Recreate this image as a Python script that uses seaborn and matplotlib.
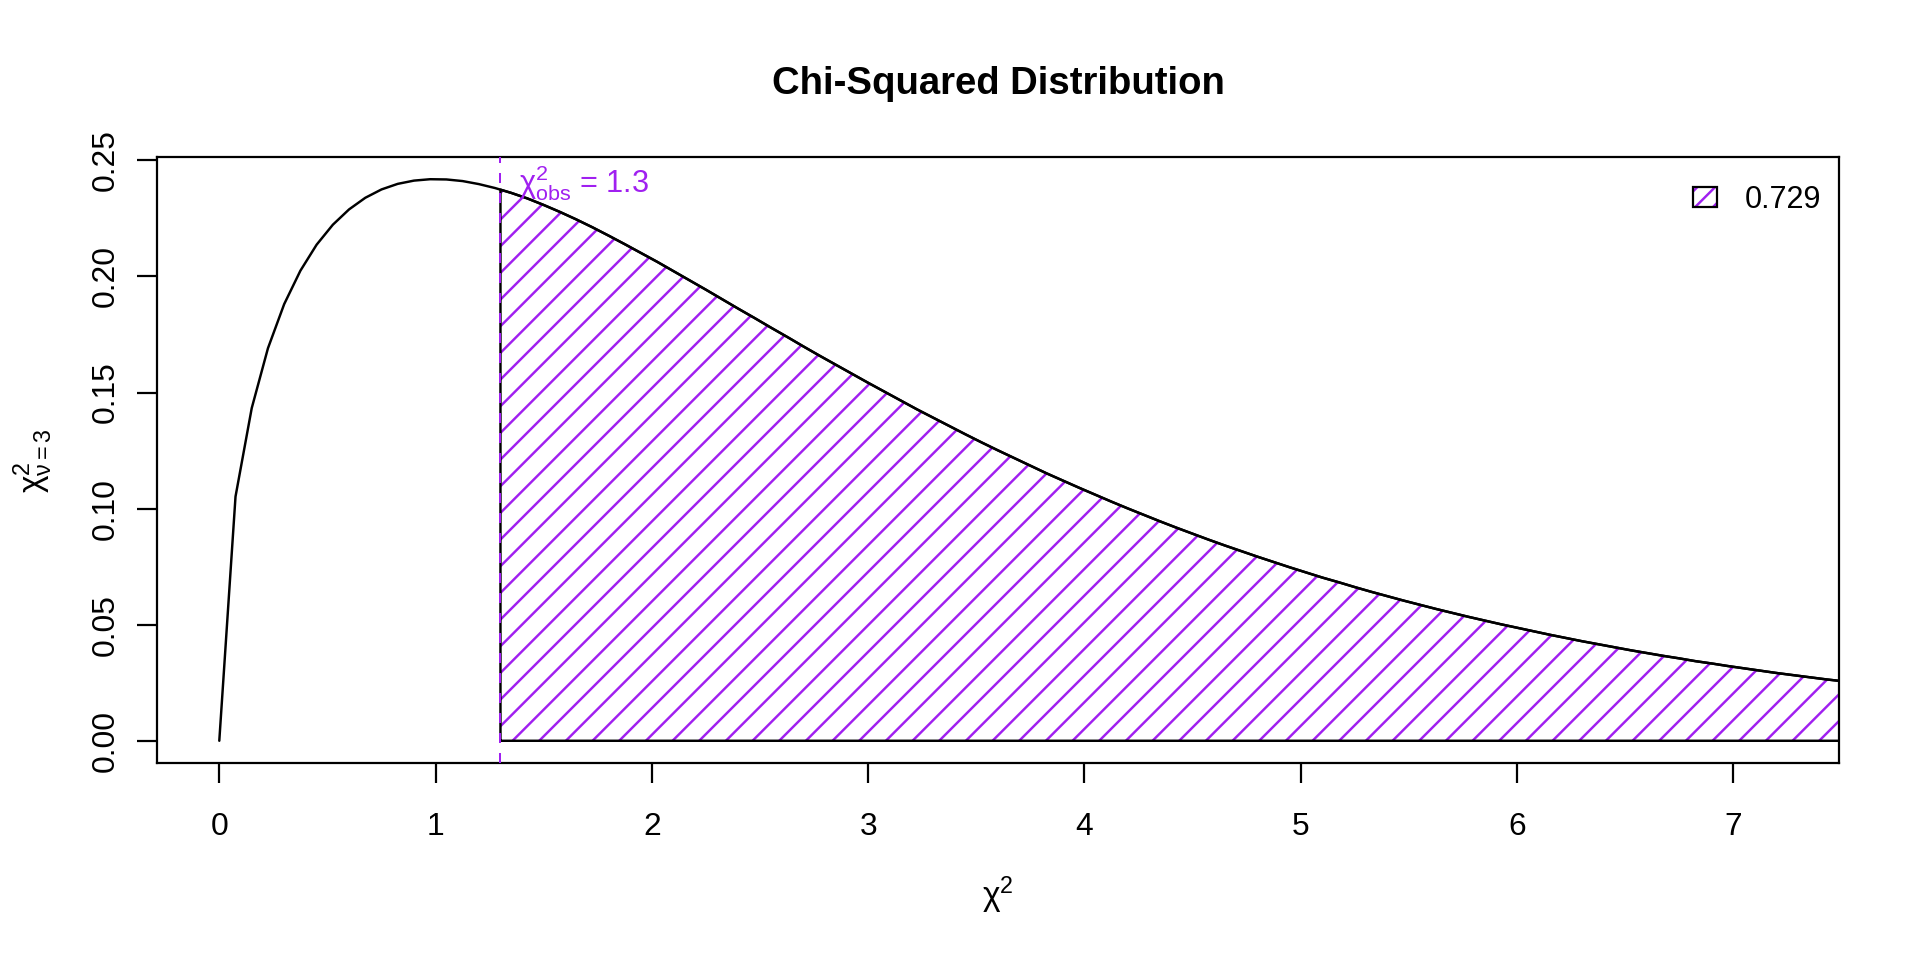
import numpy as np
import matplotlib
matplotlib.use('Agg')
import matplotlib.pyplot as plt
import seaborn as sns
from matplotlib.patches import Patch

# ---------------- data ----------------
chi_x = np.linspace(0, 7.5, 101)
chi_density = [
    0.0000, 0.1052, 0.1433, 0.1691, 0.1881, 0.2025, 0.2137, 0.2223, 0.2289, 0.2339,
    0.2375, 0.2399, 0.2413, 0.2419, 0.2418, 0.2411, 0.2398, 0.2381, 0.2360, 0.2336,
    0.2308, 0.2278, 0.2246, 0.2212, 0.2176, 0.2139, 0.2101, 0.2063, 0.2023, 0.1983,
    0.1943, 0.1902, 0.1861, 0.1821, 0.1780, 0.1740, 0.1699, 0.1659, 0.1620, 0.1581,
    0.1542, 0.1504, 0.1466, 0.1428, 0.1392, 0.1356, 0.1320, 0.1285, 0.1251, 0.1218,
    0.1185, 0.1152, 0.1121, 0.1090, 0.1060, 0.1030, 0.1001, 0.0973, 0.0945, 0.0918,
    0.0892, 0.0866, 0.0841, 0.0817, 0.0793, 0.0770, 0.0747, 0.0725, 0.0703, 0.0683,
    0.0662, 0.0642, 0.0623, 0.0604, 0.0586, 0.0568, 0.0551, 0.0534, 0.0518, 0.0502,
    0.0487, 0.0472, 0.0457, 0.0443, 0.0429, 0.0416, 0.0403, 0.0390, 0.0378, 0.0366,
    0.0355, 0.0343, 0.0333, 0.0322, 0.0312, 0.0302, 0.0292, 0.0283, 0.0274, 0.0265,
    0.0257,
]
x_ticks = [0, 1, 2, 3, 4, 5, 6, 7]
x_tick_labels = ['0', '1', '2', '3', '4', '5', '6', '7']
y_ticks = [0.00, 0.05, 0.10, 0.15, 0.20, 0.25]
y_tick_labels = ['0.00', '0.05', '0.10', '0.15', '0.20', '0.25']
chi_obs = 1.3
p_value_label = '0.729'
dof = 3
title = 'Chi-Squared Distribution'

# ---------------- style ----------------
sns.set_style('white')
plt.rcParams['font.family'] = ['Liberation Sans', 'DejaVu Sans']
plt.rcParams['mathtext.fontset'] = 'custom'
plt.rcParams['mathtext.rm'] = 'Liberation Sans'
plt.rcParams['mathtext.it'] = 'Liberation Sans:italic'
plt.rcParams['mathtext.bf'] = 'Liberation Sans:bold'
plt.rcParams['hatch.linewidth'] = 1.1
for k in ['text.color', 'axes.labelcolor', 'xtick.color', 'ytick.color']:
    plt.rcParams[k] = 'black'

PURPLE = '#A020F0'
W, H = 1920, 960

fig = plt.figure(figsize=(12, 6), dpi=160)
ax = fig.add_axes([156.7 / W, 1 - 763.3 / H, (1839.3 - 156.7) / W, (763.3 - 156.7) / H])

y = np.array(chi_density)
mask = chi_x > chi_obs
obs_d = np.interp(chi_obs, chi_x, y)
px = np.concatenate([[chi_obs], chi_x[mask]])
py = np.concatenate([[obs_d], y[mask]])

# hatched tail area
ax.fill_between(px, 0, py, facecolor='none', edgecolor=PURPLE, hatch='//',
                linewidth=0, zorder=1)
# polygon border
poly_x = np.concatenate([[chi_obs], px, [px[-1], chi_obs]])
poly_y = np.concatenate([[0], py, [0, 0]])
ax.plot(poly_x, poly_y, color='black', lw=1.1, zorder=2)

# density curve
sns.lineplot(x=chi_x, y=y, color='black', lw=1.1, ax=ax, zorder=3)

# observed value line
ax.axvline(chi_obs, color=PURPLE, lw=0.9, ls=(0, (5, 5)), zorder=4)

ax.text(1.387, 0.2361, r'$\mathrm{χ}^{2}_{\mathrm{obs}}$' + f' = {chi_obs}',
        color=PURPLE, fontsize=13.8, ha='left', va='baseline', zorder=5)

ax.set_xlim(-0.2894, 7.49)
ax.set_ylim(-0.0097, 0.2516)
ax.set_xticks(x_ticks, x_tick_labels)
ax.set_yticks(y_ticks, y_tick_labels)
ax.set_xlabel('')
ax.set_ylabel('')
ax.tick_params(direction='out', length=9, width=1, labelsize=14.3, color='black',
               labelcolor='black', bottom=True, left=True, top=False, right=False)
ax.tick_params(axis='x', pad=12.8)
ax.tick_params(axis='y', pad=7.3, labelrotation=90)
for lab in ax.get_yticklabels():
    lab.set_va('center')
for s in ax.spines.values():
    s.set_visible(True)
    s.set_color('black')
    s.set_linewidth(1)

# titles / labels
cx = (156.7 + 1839.3) / 2 / W
fig.text(cx, 1 - 93.5 / H, title, ha='center', va='baseline', fontsize=17.2,
         fontweight='bold', color='black')
fig.text(cx, 1 - 895 / H, r'$\mathrm{χ}^{2}$', ha='center', va='center',
         fontsize=15, color='black')
fig.text(33.5 / W, 1 - 461 / H, r'$\mathrm{χ}^{2}_{\mathrm{ν=' + str(dof) + r'}}$',
         rotation=90, ha='center', va='center', fontsize=15, color='black')

# legend
handles = [(Patch(facecolor='white', edgecolor=PURPLE, hatch='///', lw=0),
            Patch(facecolor='none', edgecolor='black', lw=1))]
fig.legend(handles, [p_value_label], loc='center left',
           bbox_to_anchor=(1692.7 / W, 1 - 200 / H), frameon=False, fontsize=13.8,
           handlelength=0.78, handleheight=0.62, handletextpad=0.92,
           borderpad=0, borderaxespad=0)

fig.savefig('out.png', dpi=160)
